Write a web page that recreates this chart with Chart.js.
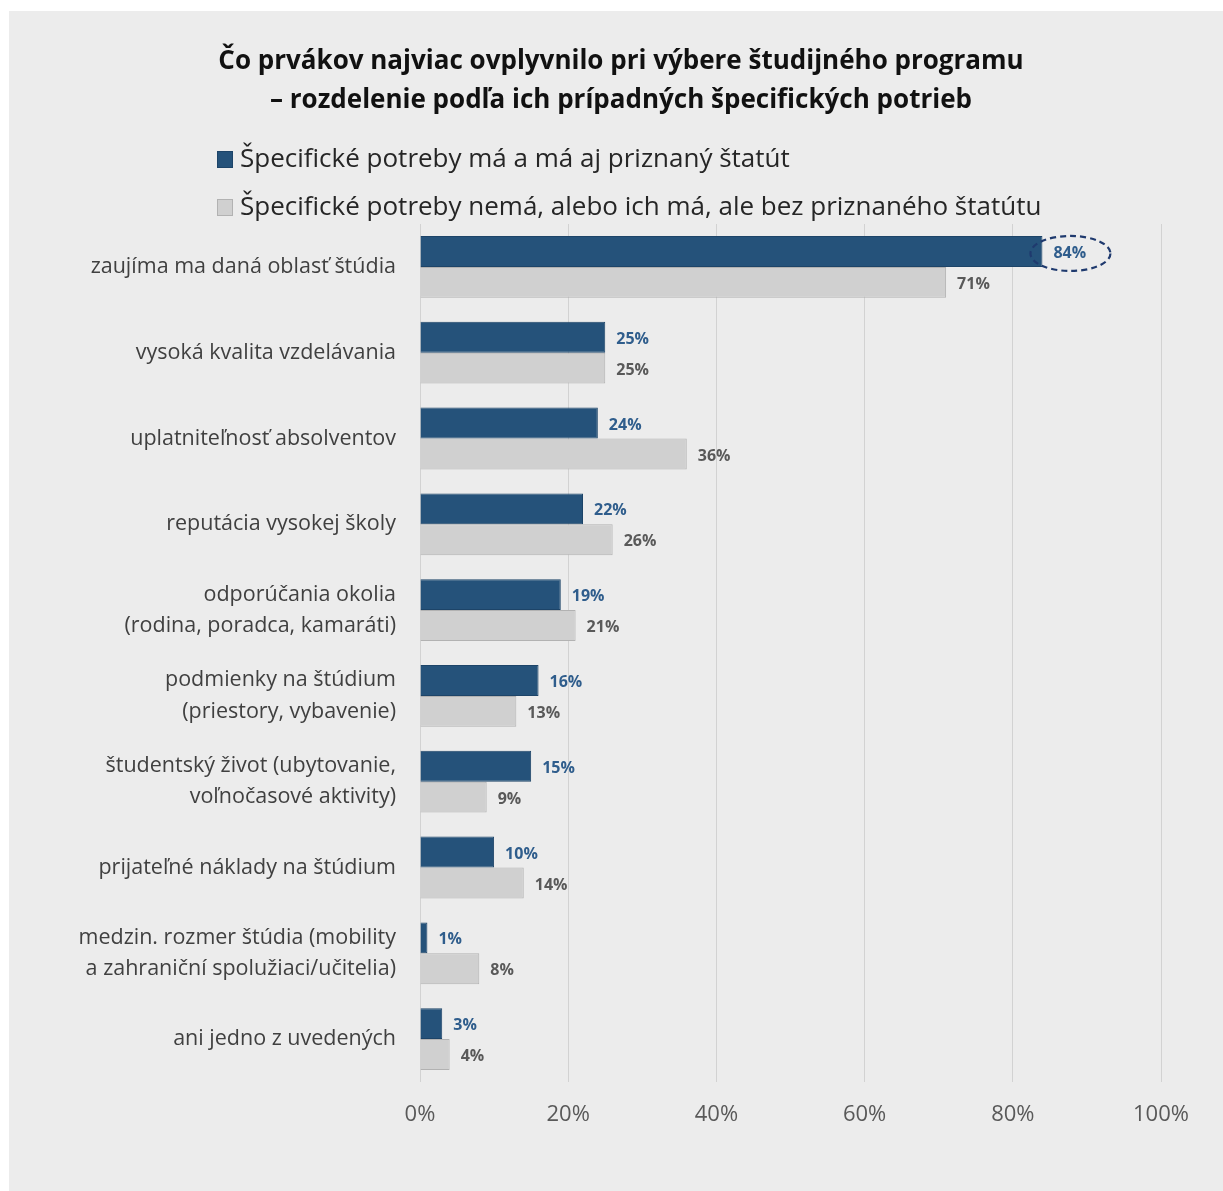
<!DOCTYPE html>
<html>
<head>
<meta charset="utf-8">
<script src="https://cdn.jsdelivr.net/npm/chart.js@4/dist/chart.umd.min.js"></script>
<style>
  html, body { margin: 0; padding: 0; background: #ffffff; }
  #wrap { position: relative; width: 1223px; height: 1191px; }
</style>
</head>
<body>
<div id="wrap"><canvas id="c" width="1223" height="1191"></canvas></div>
<script>
const categories = [
  "zaujíma ma daná oblasť štúdia",
  "vysoká kvalita vzdelávania",
  "uplatniteľnosť absolventov",
  "reputácia vysokej školy",
  ["odporúčania okolia", "(rodina, poradca, kamaráti)"],
  ["podmienky na štúdium", "(priestory, vybavenie)"],
  ["študentský život (ubytovanie,", "voľnočasové aktivity)"],
  "prijateľné náklady na štúdium",
  ["medzin. rozmer štúdia (mobility", "a zahraniční spolužiaci/učitelia)"],
  "ani jedno z uvedených"
];
const seriesNames = [
  "Špecifické potreby má a má aj priznaný štatút",
  "Špecifické potreby nemá, alebo ich má, ale bez priznaného štatútu"
];
const withStatus = [84, 25, 24, 22, 19, 16, 15, 10, 1, 3];
const withoutStatus = [71, 25, 36, 26, 21, 13, 9, 14, 8, 4];
const xTicks = [0, 20, 40, 60, 80, 100];
const titleLines = [
  "Čo prvákov najviac ovplyvnilo pri výbere študijného programu",
  "– rozdelenie podľa ich prípadných špecifických potrieb"
];
const highlighted = { dataset: 0, index: 0 };

const FONT = "'Open Sans', 'DejaVu Sans', sans-serif";
const BLUE = "#25527a";
const GREY = "#d0d0d0";

const decorPlugin = {
  id: "decor",
  beforeDraw(chart) {
    const ctx = chart.ctx;
    ctx.save();
    ctx.fillStyle = "#ffffff";
    ctx.fillRect(0, 0, chart.width, chart.height);
    ctx.fillStyle = "#ececec";
    ctx.fillRect(9, 11, chart.width - 9, chart.height - 11);
    // title
    ctx.fillStyle = "#111111";
    ctx.font = "bold 26px " + FONT;
    ctx.textAlign = "center";
    ctx.textBaseline = "middle";
    ctx.fillText(titleLines[0], 621, 62);
    ctx.fillText(titleLines[1], 621, 101);
    // legend
    ctx.textAlign = "left";
    ctx.font = "26px " + FONT;
    chart.data.datasets.forEach((ds, i) => {
      const y = 159 + i * 48;
      ctx.fillStyle = ds.backgroundColor;
      ctx.fillRect(217, y - 8, 16, 17);
      ctx.strokeStyle = ds.borderColor;
      ctx.lineWidth = 1;
      ctx.strokeRect(217.5, y - 7.5, 15, 16);
      ctx.fillStyle = "#262626";
      ctx.fillText(ds.label, 240, y + 1);
    });
    ctx.restore();
  },
  afterDatasetsDraw(chart) {
    const ctx = chart.ctx;
    ctx.save();
    ctx.font = "bold 16px " + FONT;
    ctx.textAlign = "left";
    ctx.textBaseline = "middle";
    chart.data.datasets.forEach((ds, di) => {
      const meta = chart.getDatasetMeta(di);
      meta.data.forEach((bar, i) => {
        ctx.fillStyle = di === 0 ? "#2f5d8c" : "#595959";
        ctx.fillText(ds.data[i] + "%", bar.x + 11, bar.y + 2);
        if (di === highlighted.dataset && i === highlighted.index) {
          ctx.save();
          ctx.strokeStyle = "#1f3a6e";
          ctx.lineWidth = 2.2;
          ctx.setLineDash([6, 4]);
          ctx.beginPath();
          ctx.ellipse(bar.x + 28, bar.y + 2, 40, 17.5, 0, 0, Math.PI * 2);
          ctx.stroke();
          ctx.restore();
        }
      });
    });
    ctx.restore();
  }
};

new Chart(document.getElementById("c"), {
  type: "bar",
  data: {
    labels: categories,
    datasets: [
      { label: seriesNames[0], data: withStatus, backgroundColor: BLUE, borderColor: "#1d4468", borderWidth: 1 },
      { label: seriesNames[1], data: withoutStatus, backgroundColor: GREY, borderColor: "#b2b2b2", borderWidth: 1 }
    ]
  },
  options: {
    indexAxis: "y",
    responsive: false,
    animation: false,
    devicePixelRatio: 1,
    categoryPercentage: 0.72,
    barPercentage: 1.0,
    layout: { padding: { top: 224, right: 62, bottom: 49, left: 0 } },
    plugins: {
      legend: { display: false },
      title: { display: false },
      tooltip: { enabled: false }
    },
    scales: {
      x: {
        min: 0, max: 100,
        afterBuildTicks(scale) { scale.ticks = xTicks.map(v => ({ value: v })); },
        afterFit(scale) { scale.height = 60; },
        grid: { color: "#d2d2d2", lineWidth: 1, drawTicks: false },
        border: { display: false },
        ticks: {
          padding: 20,
          color: "#595959",
          font: { family: FONT, size: 22 },
          callback: v => v + "%"
        }
      },
      y: {
        afterFit(scale) { scale.width = 420; },
        grid: { display: false, drawTicks: false },
        border: { display: false },
        ticks: {
          padding: 24,
          color: "#404040",
          font: { family: FONT, size: 21.5, lineHeight: 1.45 }
        }
      }
    }
  },
  plugins: [decorPlugin]
});
</script>
</body>
</html>
